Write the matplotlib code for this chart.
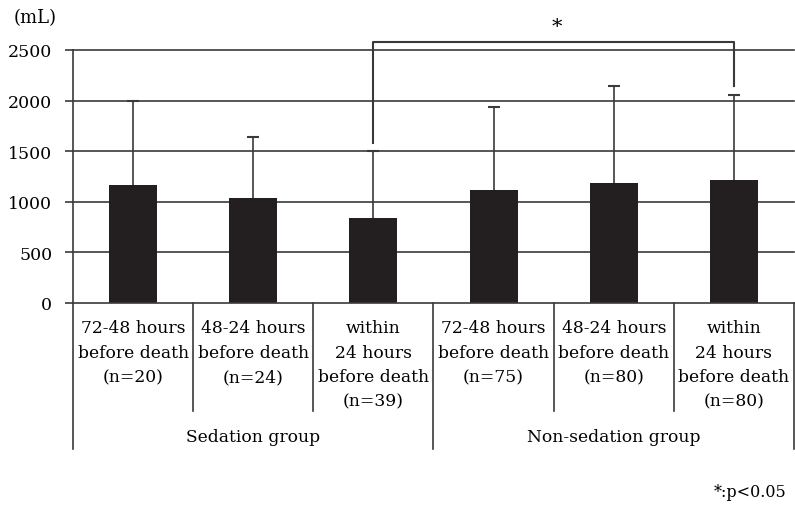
import matplotlib
matplotlib.use("Agg")
import matplotlib.pyplot as plt

plt.rcParams['font.family'] = ['DejaVu Serif']

categories = ["72-48 hours\nbefore death\n(n=20)",
              "48-24 hours\nbefore death\n(n=24)",
              "within\n24 hours\nbefore death\n(n=39)",
              "72-48 hours\nbefore death\n(n=75)",
              "48-24 hours\nbefore death\n(n=80)",
              "within\n24 hours\nbefore death\n(n=80)"]
groups = ["Sedation group", "Non-sedation group"]
means = [1165, 1040, 840, 1115, 1185, 1220]
sds = [830, 605, 660, 825, 960, 840]
yticks = [0, 500, 1000, 1500, 2000, 2500]

bar_color = "#231f20"
line_color = "#3a3a3a"

fig = plt.figure(figsize=(7.95, 5.10), dpi=100)
ax = fig.add_axes([73/795, 1-304/510, (794-73)/795, 253/510])

x = list(range(len(means)))
for t in yticks[1:]:
    ax.axhline(t, color=line_color, lw=1.2, zorder=0, clip_on=False)
ax.bar(x, means, width=0.4, color=bar_color, zorder=2)
tops = [m + s for m, s in zip(means, sds)]
ax.vlines(x, means, tops, color=line_color, lw=1.2, zorder=1)
ax.plot(x, tops, linestyle='none', marker='_', markersize=8, markeredgewidth=1.5,
        color=line_color, zorder=1)

ax.set_xlim(-0.5, 5.5)
ax.set_ylim(0, 2500)
ax.set_yticks(yticks)
ax.set_yticklabels([str(t) for t in yticks], fontsize=12.5)
ax.tick_params(axis='y', length=6, width=1.2, color=line_color, pad=9)
ax.set_xticks([])
for s in ['top', 'right']:
    ax.spines[s].set_visible(False)
for s in ['left', 'bottom']:
    ax.spines[s].set_color(line_color)
    ax.spines[s].set_linewidth(1.2)

tr = ax.get_xaxis_transform()
h = 253.0
def yf(py):
    return (304 - py) / h

# category table lines
for b in [0.5, 1.5, 3.5, 4.5]:
    ax.plot([b, b], [0, yf(412)], transform=tr, color=line_color, lw=1.2, clip_on=False)
for b in [-0.5, 2.5, 5.5]:
    ax.plot([b, b], [0, yf(450)], transform=tr, color=line_color, lw=1.2, clip_on=False)

for i, lab in enumerate(categories):
    ax.text(i, yf(320), lab, transform=tr, ha='center', va='top', fontsize=12.3,
            linespacing=1.58)
for gi, g in enumerate(groups):
    ax.text(1 + 3*gi, yf(438), g, transform=tr, ha='center', va='center', fontsize=12.3)

# significance bracket
ax.plot([2, 2, 5, 5], [1580, 2580, 2580, 2140], color=line_color, lw=1.5, clip_on=False)
ax.text(3.53, 2730, "*", ha='center', va='center', fontsize=15)

fig.text(14/795, 1-18/510, "(mL)", ha='left', va='center', fontsize=13)
fig.text(786/795, 1-493/510, "*:p<0.05", ha='right', va='center', fontsize=11.5)

fig.savefig("out.png", dpi=100)
